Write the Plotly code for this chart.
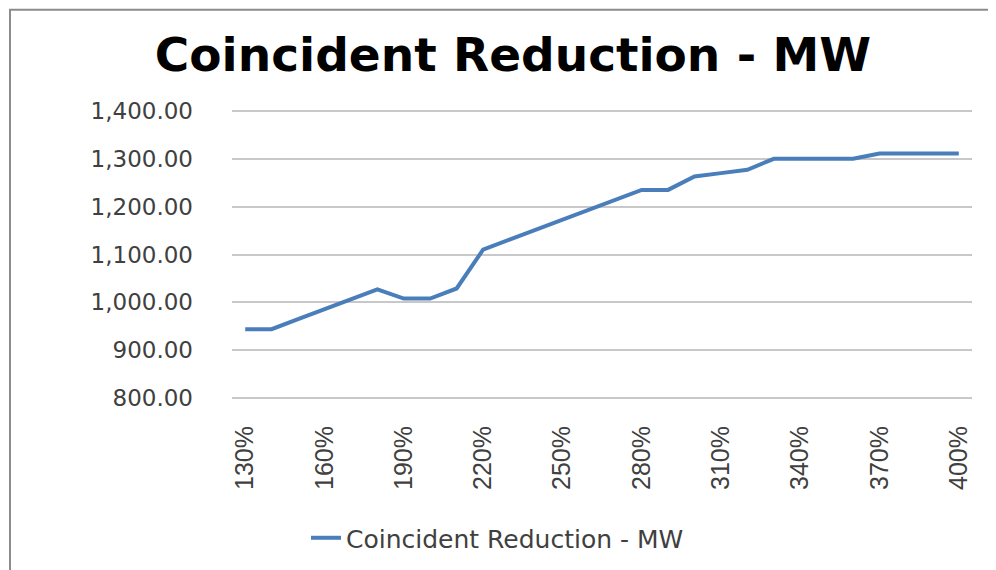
import plotly.graph_objects as go

# 데이터
categories = [f'{p}%' for p in range(130, 410, 10)]
reduction_mw = [944, 944, 965, 985, 1005, 1027, 1008, 1008, 1029, 1110,
                1131, 1152, 1173, 1194, 1214, 1235, 1235, 1263, 1270, 1277,
                1300, 1300, 1300, 1300, 1311, 1311, 1311, 1311]
tick_labels = categories[::3]
y_ticks = [800, 900, 1000, 1100, 1200, 1300, 1400]
series_name = 'Coincident Reduction - MW'

# 페이지 body 여백(8px) 보정
OFF = 8
W, H = 996, 570
# 플롯 영역 픽셀 기준 (화면 좌표 - 보정), 축 범위를 4씩 넓힌 만큼 2px 확장
L, R, T, B = 232 - OFF, 972 - OFF, 108.5 - OFF, 400.5 - OFF
def px_x(px):
    return (px - OFF - L) / (R - L)
def px_y(py):
    return (B - (py - OFF)) / (B - T)

fig = go.Figure()
fig.add_trace(go.Scatter(x=categories, y=reduction_mw, mode='lines',
                         name=series_name,
                         line=dict(color='#4a7ebb', width=4)))

fig.update_layout(
    width=W, height=H,
    margin=dict(l=L, r=W - R, t=T, b=H - B),
    paper_bgcolor='white', plot_bgcolor='white',
    title=dict(text=series_name, x=(513 - OFF) / W, xanchor='center',
               y=1 - (55 - OFF) / H, yanchor='middle', yref='container',
               font=dict(family='DejaVu Sans', size=47, color='black', weight='bold')),
    showlegend=True,
    legend=dict(orientation='h', x=px_x(306), xanchor='left',
                y=px_y(539), yanchor='middle',
                font=dict(family='DejaVu Sans', size=25, color='#404040')),
    xaxis=dict(type='category', tickmode='array', tickvals=tick_labels,
               ticktext=tick_labels, tickangle=-90, showgrid=False,
               range=[-0.5, len(categories) - 0.5],
               showline=False, ticks='', ticklabelstandoff=20,
               tickfont=dict(family='Liberation Sans', size=25, color='#404040')),
    yaxis=dict(range=[796, 1404], tickvals=y_ticks, tickformat=',.2f',
               showgrid=True, gridcolor='#c8c8c8', gridwidth=1.5,
               zeroline=False, showline=False, ticks='', ticklabelstandoff=38,
               tickfont=dict(family='DejaVu Sans', size=23, color='#404040')),
    shapes=[
        dict(type='line', xref='paper', yref='paper',
             x0=px_x(10), x1=px_x(10), y0=px_y(9), y1=px_y(590),
             line=dict(color='#8c8c8c', width=2)),
        dict(type='line', xref='paper', yref='paper',
             x0=px_x(9), x1=px_x(1010), y0=px_y(9), y1=px_y(9),
             line=dict(color='#8c8c8c', width=2)),
    ],
)

fig.write_html('out.html')
